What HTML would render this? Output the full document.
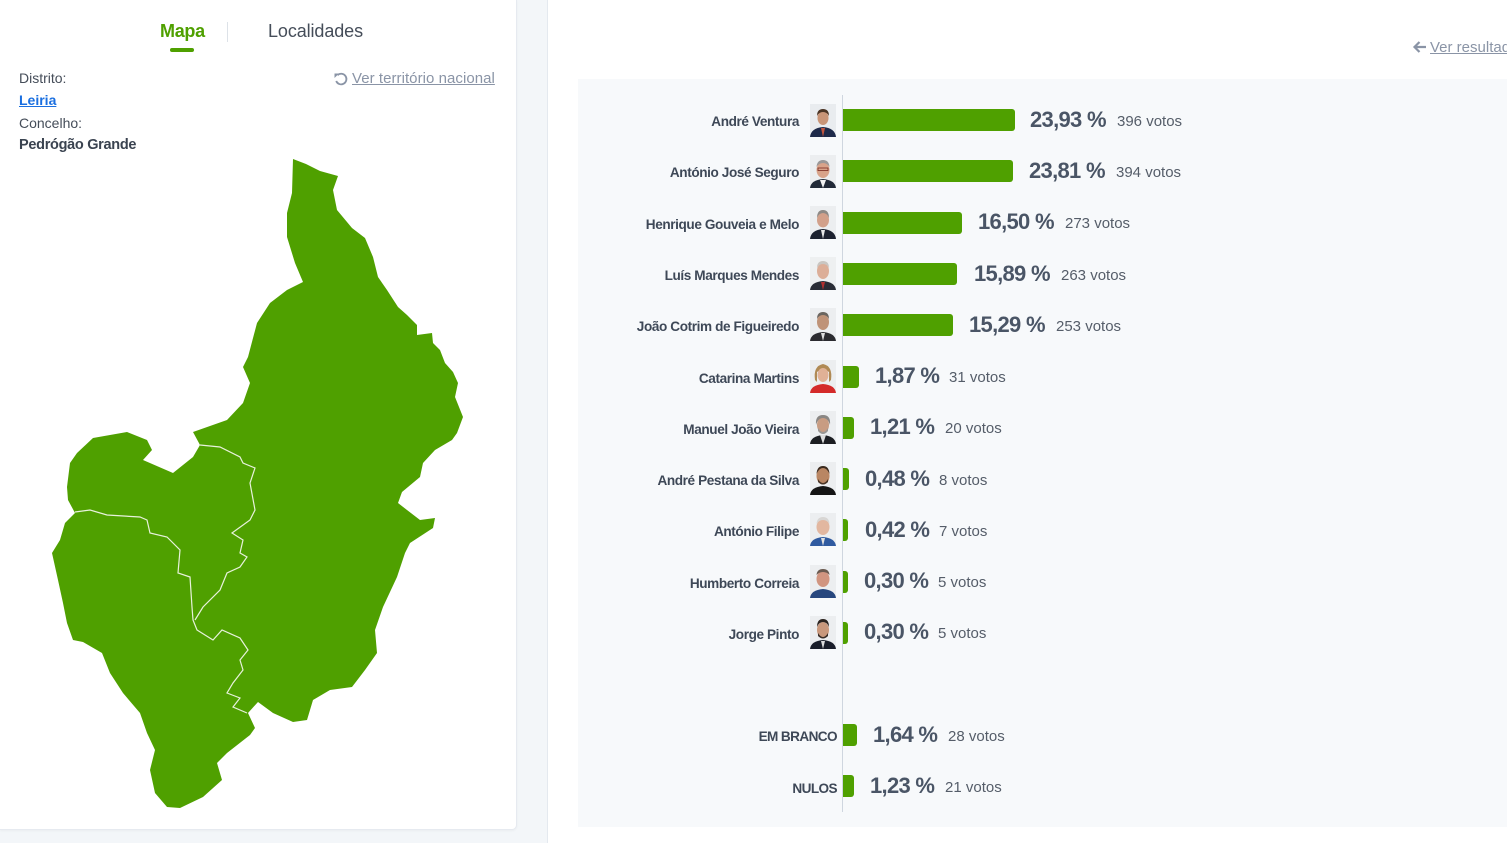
<!DOCTYPE html>
<html><head><meta charset="utf-8">
<style>
*{margin:0;padding:0;box-sizing:border-box}
html,body{width:1507px;height:843px;overflow:hidden;background:#fff;font-family:"Liberation Sans",Arial,sans-serif}
.abs{position:absolute}
#leftbg{left:0;top:0;width:548px;height:843px;background:#f3f6f9;border-right:1px solid #e4e9ef}
#card{left:0;top:0;width:517px;height:830px;background:#fff;border-right:1px solid #e6eaf0;border-bottom:1px solid #e6eaf0;border-radius:0 0 5px 0;box-shadow:0 1px 2px rgba(0,0,0,.04)}
#chart{left:578px;top:79px;width:929px;height:748px;background:#f7f9fb}
.name{position:absolute;right:708px;font-size:13.6px;color:#3e4857;font-weight:bold;letter-spacing:-0.4px;white-space:nowrap;line-height:16px}
.bar{position:absolute;left:843px;height:22px;background:#4fa000;border-radius:0 3px 3px 0}
.pct{position:absolute;font-size:22px;font-weight:bold;color:#4a5566;white-space:nowrap;line-height:24px;letter-spacing:-0.7px}
.vot{position:absolute;font-size:15px;color:#555d69;white-space:nowrap;line-height:18px}
.ph{position:absolute;left:810px;width:26px;height:33px}
</style></head><body>
<div class="abs" id="leftbg"></div>
<div class="abs" id="card"></div>

<!-- tabs -->
<div class="abs" style="left:160px;top:21px;font-size:18px;font-weight:bold;color:#4fa000;letter-spacing:-0.3px">Mapa</div>
<div class="abs" style="left:170px;top:48px;width:24px;height:4px;border-radius:2px;background:#4fa000"></div>
<div class="abs" style="left:227px;top:22px;width:1px;height:20px;background:#dde2e8"></div>
<div class="abs" style="left:268px;top:21px;font-size:18px;color:#454d59;letter-spacing:-0.1px">Localidades</div>

<div class="abs" style="left:19px;top:70px;font-size:14px;color:#454d59">Distrito:</div>
<div class="abs" style="left:19px;top:92px;font-size:14px;color:#1a6fe0;font-weight:bold;text-decoration:underline">Leiria</div>
<div class="abs" style="left:19px;top:115px;font-size:14px;color:#454d59">Concelho:</div>
<div class="abs" style="left:19px;top:137px;font-size:14.5px;color:#3a4350;font-weight:bold;letter-spacing:-0.3px">Pedrógão Grande</div>

<svg class="abs" style="left:333px;top:71px" width="16" height="16" viewBox="0 0 16 16"><path d="M4.5 4.2 A5.3 5.3 0 1 1 3.2 10" fill="none" stroke="#8a94a6" stroke-width="1.8"/><path d="M1.5 2.5 L6 2.5 L1.5 7Z" fill="#8a94a6"/></svg>
<div class="abs" style="left:352px;top:70px;font-size:15px;color:#8a94a6;text-decoration:underline;white-space:nowrap;letter-spacing:0.05px">Ver território nacional</div>

<!-- map -->
<svg class="abs" style="left:0;top:0" width="517" height="830">
<path fill="#4fa000" d="M293,159 L306,164 L320,171 L338,176 L333,190 L337,210 L352,228 L365,238 L373,257 L378,277 L387,290 L398,307 L407,315 L417,325 L417,335 L432,333 L433,343 L440,350 L445,363 L453,372 L458,383 L455,397 L463,417 L457,433 L452,440 L435,450 L423,463 L420,477 L402,492 L398,503 L407,510 L420,520 L435,518 L433,528 L410,543 L405,553 L397,577 L383,607 L375,630 L377,653 L365,670 L352,687 L330,690 L313,700 L307,720 L293,722 L273,713 L258,702 L248,713 L255,728 L250,735 L227,753 L217,763 L222,780 L203,797 L180,808 L167,807 L155,793 L150,770 L155,750 L147,733 L140,713 L123,693 L110,673 L102,653 L83,642 L73,640 L67,623 L63,603 L58,580 L52,553 L60,540 L65,523 L75,513 L68,500 L67,487 L70,463 L77,453 L93,438 L127,432 L147,440 L152,450 L143,460 L173,473 L193,457 L200,445 L193,432 L227,420 L243,403 L250,383 L243,367 L248,357 L257,323 L270,303 L287,290 L303,282 L295,263 L287,237 L287,213 L292,193 Z"/>
<path fill="none" stroke="#e8f2dc" stroke-width="1.2" d="M200,445 L220,447 L240,457 L243,463 L255,468 L250,483 L255,510 L250,520 L232,533 L243,540 L240,553 L247,557 L240,567 L227,573 L220,590 L203,607 L195,620"/>
<path fill="none" stroke="#e8f2dc" stroke-width="1.2" d="M75,512 L90,510 L107,515 L140,517 L147,520 L150,533 L167,537 L180,550 L178,573 L190,577 L192,607 L193,620 L197,630 L213,640 L222,630 L240,638 L248,650 L240,660 L243,670 L233,683 L227,693 L240,698 L233,707 L247,713"/>
</svg>

<!-- right side -->
<svg class="abs" style="left:1412px;top:40px" width="16" height="14" viewBox="0 0 16 14"><path d="M14 7 H3 M7.5 2 L2.5 7 L7.5 12" fill="none" stroke="#8a94a6" stroke-width="2.2"/></svg>
<div class="abs" style="left:1430px;top:39px;font-size:15px;color:#8a94a6;text-decoration:underline;white-space:nowrap">Ver resultados</div>

<div class="abs" id="chart"></div>
<div class="abs" style="left:842px;top:95px;width:1px;height:717px;background:#cfd6df"></div>

<!-- rows -->
<div class="name" style="top:114px">André Ventura</div>
<div class="name" style="top:165px">António José Seguro</div>
<div class="name" style="top:217px">Henrique Gouveia e Melo</div>
<div class="name" style="top:268px">Luís Marques Mendes</div>
<div class="name" style="top:319px">João Cotrim de Figueiredo</div>
<div class="name" style="top:371px">Catarina Martins</div>
<div class="name" style="top:422px">Manuel João Vieira</div>
<div class="name" style="top:473px">André Pestana da Silva</div>
<div class="name" style="top:524px">António Filipe</div>
<div class="name" style="top:576px">Humberto Correia</div>
<div class="name" style="top:627px">Jorge Pinto</div>
<div class="name" style="top:729px;right:670px;letter-spacing:-0.6px">EM BRANCO</div>
<div class="name" style="top:781px;right:670px;letter-spacing:-0.6px">NULOS</div>

<div class="bar" style="top:109px;width:172px"></div>
<div class="bar" style="top:160px;width:170px"></div>
<div class="bar" style="top:212px;width:119px"></div>
<div class="bar" style="top:263px;width:114px"></div>
<div class="bar" style="top:314px;width:110px"></div>
<div class="bar" style="top:366px;width:16px"></div>
<div class="bar" style="top:417px;width:11px"></div>
<div class="bar" style="top:468px;width:6px"></div>
<div class="bar" style="top:519px;width:5px"></div>
<div class="bar" style="top:571px;width:5px"></div>
<div class="bar" style="top:622px;width:5px"></div>
<div class="bar" style="top:724px;width:14px"></div>
<div class="bar" style="top:775px;width:11px"></div>

<div class="pct" style="left:1030px;top:108px">23,93 %</div><div class="vot" style="left:1117px;top:113px">396 votos</div>
<div class="pct" style="left:1029px;top:159px">23,81 %</div><div class="vot" style="left:1116px;top:164px">394 votos</div>
<div class="pct" style="left:978px;top:210px">16,50 %</div><div class="vot" style="left:1065px;top:215px">273 votos</div>
<div class="pct" style="left:974px;top:262px">15,89 %</div><div class="vot" style="left:1061px;top:267px">263 votos</div>
<div class="pct" style="left:969px;top:313px">15,29 %</div><div class="vot" style="left:1056px;top:318px">253 votos</div>
<div class="pct" style="left:875px;top:364px">1,87 %</div><div class="vot" style="left:949px;top:369px">31 votos</div>
<div class="pct" style="left:870px;top:415px">1,21 %</div><div class="vot" style="left:945px;top:420px">20 votos</div>
<div class="pct" style="left:865px;top:467px">0,48 %</div><div class="vot" style="left:939px;top:472px">8 votos</div>
<div class="pct" style="left:865px;top:518px">0,42 %</div><div class="vot" style="left:939px;top:523px">7 votos</div>
<div class="pct" style="left:864px;top:569px">0,30 %</div><div class="vot" style="left:938px;top:574px">5 votos</div>
<div class="pct" style="left:864px;top:620px">0,30 %</div><div class="vot" style="left:938px;top:625px">5 votos</div>
<div class="pct" style="left:873px;top:723px">1,64 %</div><div class="vot" style="left:948px;top:728px">28 votos</div>
<div class="pct" style="left:870px;top:774px">1,23 %</div><div class="vot" style="left:945px;top:779px">21 votos</div>

<!-- portraits -->
<svg class="ph" style="top:104px" viewBox="0 0 26 33"><rect width="26" height="33" fill="#e9ecef"/><path d="M0 33 Q1 24 13 23 Q25 24 26 33Z" fill="#1e2a4a"/><path d="M11 24 L13 33 L15 24Z" fill="#c2553f"/><ellipse cx="13" cy="14" rx="5.5" ry="7" fill="#c99577"/><path d="M7 12 Q7 5 13 5 Q19 5 19 12 Q17 8 13 8 Q9 8 7 12Z" fill="#4a3424"/></svg>
<svg class="ph" style="top:155px" viewBox="0 0 26 33"><rect width="26" height="33" fill="#eceef0"/><path d="M0 33 Q1 25 13 24 Q25 25 26 33Z" fill="#222a38"/><path d="M10 25 L13 33 L16 25Z" fill="#f2f2f2"/><ellipse cx="13" cy="15" rx="6.5" ry="8" fill="#d8a38a"/><path d="M6.5 12 Q7 5 13 5 Q19 5 19.5 12 Q17 8 13 8 Q9 8 6.5 12Z" fill="#9a9898"/><rect x="8" y="13" width="10" height="2.5" fill="none" stroke="#7a2a20" stroke-width="0.8"/></svg>
<svg class="ph" style="top:206px" viewBox="0 0 26 33"><rect width="26" height="33" fill="#eceef0"/><path d="M0 33 Q1 24 13 23 Q25 24 26 33Z" fill="#1d2230"/><path d="M11 24 L13 33 L15 24Z" fill="#e8e8e8"/><ellipse cx="13" cy="14" rx="6" ry="7.5" fill="#d2a08a"/><path d="M7 12 Q7 4 13 4 Q19 4 19 12 Q17 7 13 7 Q9 7 7 12Z" fill="#8e8a86"/></svg>
<svg class="ph" style="top:257px" viewBox="0 0 26 33"><rect width="26" height="33" fill="#eef0f1"/><path d="M0 33 Q1 25 13 24 Q25 25 26 33Z" fill="#2a2d36"/><path d="M11 25 L13 33 L15 25Z" fill="#b03030"/><ellipse cx="13" cy="14" rx="6" ry="8" fill="#dcae98"/><path d="M7 11 Q7 4 13 4 Q19 4 19 11 Q17 7 13 7 Q9 7 7 11Z" fill="#c9c6c2"/></svg>
<svg class="ph" style="top:308px" viewBox="0 0 26 33"><rect width="26" height="33" fill="#eceef0"/><path d="M0 33 Q1 25 13 24 Q25 25 26 33Z" fill="#2b2b30"/><path d="M11 25 L13 33 L15 25Z" fill="#ddd"/><ellipse cx="13" cy="14" rx="6" ry="8" fill="#bf9378"/><path d="M7 11 Q7 4 13 4 Q19 4 19 11 Q17 7 13 7 Q9 7 7 11Z" fill="#6b6660"/></svg>
<svg class="ph" style="top:360px" viewBox="0 0 26 33"><rect width="26" height="33" fill="#eceef0"/><path d="M0 33 Q1 25 13 24 Q25 25 26 33Z" fill="#d42a2a"/><path d="M5 20 Q3 6 13 4 Q23 6 21 20 L19 22 L19 12 Q13 8 7 12 L7 22Z" fill="#b08a55"/><ellipse cx="13" cy="15" rx="5.5" ry="7" fill="#e0b196"/></svg>
<svg class="ph" style="top:411px" viewBox="0 0 26 33"><rect width="26" height="33" fill="#eceef0"/><path d="M0 33 Q1 25 13 24 Q25 25 26 33Z" fill="#1c1e22"/><path d="M10 24 L13 33 L16 24Z" fill="#ddd"/><ellipse cx="13" cy="14" rx="6" ry="8" fill="#c89c82"/><path d="M6 14 Q5 4 13 4 Q21 4 20 14 Q18 7 13 7 Q8 7 6 14Z" fill="#8a8784"/><path d="M8 17 Q13 25 18 17 L18 20 Q13 26 8 20Z" fill="#9a9794"/></svg>
<svg class="ph" style="top:462px" viewBox="0 0 26 33"><rect width="26" height="33" fill="#eceef0"/><path d="M0 33 Q1 25 13 24 Q25 25 26 33Z" fill="#151515"/><ellipse cx="13" cy="14" rx="6.5" ry="8.5" fill="#b98663"/><path d="M6.5 12 Q7 4 13 4 Q19 4 19.5 12 Q17 6 13 6 Q9 6 6.5 12Z" fill="#3a2a1e"/><path d="M8 17 Q13 25 18 17 L18 20 Q13 25 8 20Z" fill="#4a3628"/></svg>
<svg class="ph" style="top:513px" viewBox="0 0 26 33"><rect width="26" height="33" fill="#eceef0"/><path d="M0 33 Q1 25 13 24 Q25 25 26 33Z" fill="#2f5aa0"/><path d="M11 25 L13 33 L15 25Z" fill="#e0e0e0"/><ellipse cx="13" cy="14" rx="6.5" ry="8" fill="#e2b7a0"/><path d="M6.5 11 Q7 4 13 4 Q19 4 19.5 11 Q17 7 13 7 Q9 7 6.5 11Z" fill="#d8d6d4"/></svg>
<svg class="ph" style="top:565px" viewBox="0 0 26 33"><rect width="26" height="33" fill="#eceef0"/><path d="M0 33 Q1 25 13 24 Q25 25 26 33Z" fill="#27477e"/><ellipse cx="13" cy="14" rx="6.5" ry="8" fill="#d19580"/><path d="M6.5 10 Q7 4 13 4 Q19 4 19.5 10 Q17 7 13 7 Q9 7 6.5 10Z" fill="#6a5a50"/></svg>
<svg class="ph" style="top:616px" viewBox="0 0 26 33"><rect width="26" height="33" fill="#eceef0"/><path d="M0 33 Q1 25 13 24 Q25 25 26 33Z" fill="#1a1e2a"/><path d="M11 25 L13 33 L15 25Z" fill="#ddd"/><ellipse cx="13" cy="14" rx="6" ry="8" fill="#c9987c"/><path d="M7 11 Q7 3 13 3 Q19 3 19 11 Q17 6 13 6 Q9 6 7 11Z" fill="#2c2420"/><path d="M8 17 Q13 25 18 17 L18 20 Q13 25 8 20Z" fill="#3a2e28"/></svg>
</body></html>
